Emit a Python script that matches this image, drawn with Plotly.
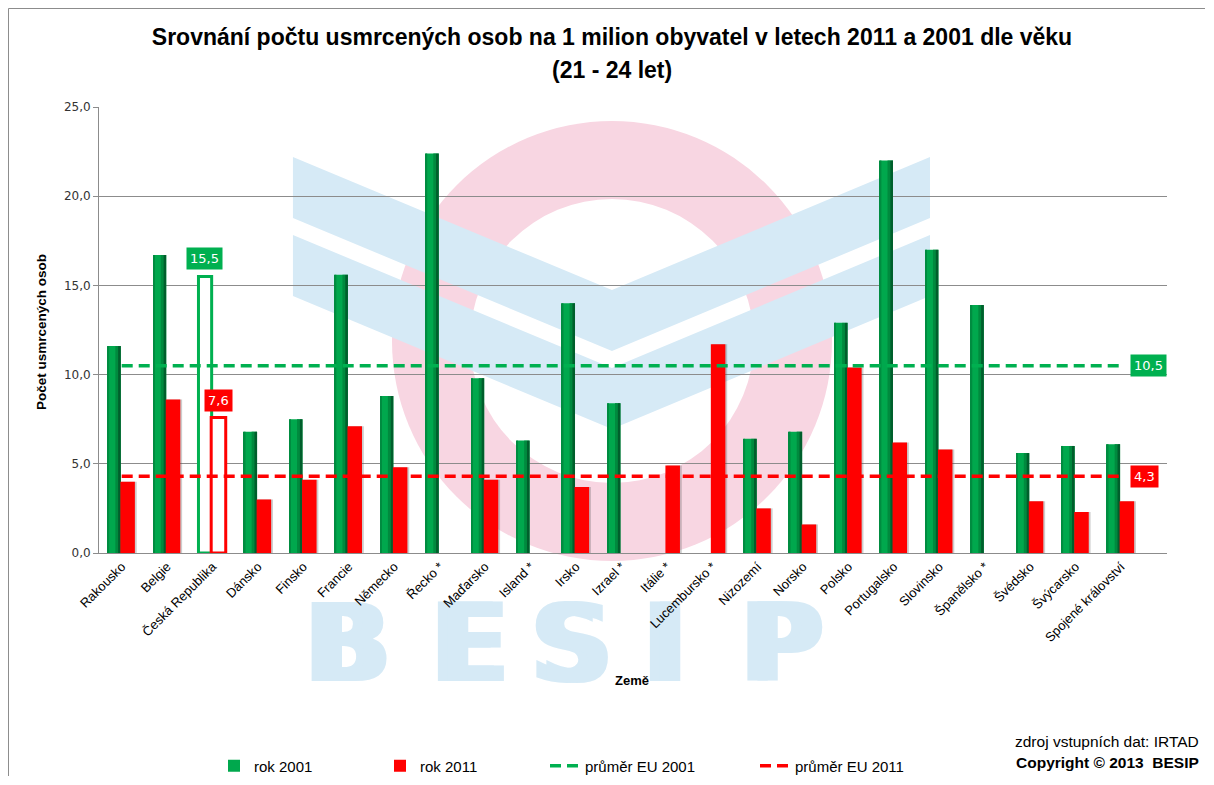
import plotly.graph_objects as go

# data
zeme = ["Rakousko", "Belgie", "Česká Republika", "Dánsko", "Finsko", "Francie",
        "Německo", "Řecko *", "Maďarsko", "Island *", "Irsko", "Izrael *",
        "Itálie *", "Lucembursko *", "Nizozemí", "Norsko", "Polsko",
        "Portugalsko", "Slovinsko", "Španělsko *", "Švédsko", "Švýcarsko",
        "Spojené království"]
rok_2001 = [11.6, 16.7, 15.5, 6.8, 7.5, 15.6, 8.8, 22.4, 9.8, 6.3, 14.0, 8.4,
            None, None, 6.4, 6.8, 12.9, 22.0, 17.0, 13.9, 5.6, 6.0, 6.1]
rok_2011 = [4.0, 8.6, 7.6, 3.0, 4.1, 7.1, 4.8, None, 4.1, None, 3.7, None,
            4.9, 11.7, 2.5, 1.6, 10.4, 6.2, 5.8, None, 2.9, 2.3, 2.9]
prumer_eu_2001 = 10.5
prumer_eu_2011 = 4.3
zvyraznit = "Česká Republika"

GREEN = "#00A84D"
GREEN_LIGHT = "#00B050"
RED = "#FF0000"

# the page body has an 8px margin, so the figure is made 8px smaller on each side
OFF = 8
FIG_W, FIG_H = 1214 - 2 * OFF, 785 - 2 * OFF
# plot area in page pixels (used for decoration placement only)
L, R, T, B = 99, 1167, 107, 553


def px(x):
    return (x - L) / (R - L)


def py(y):
    return (B - y) / (B - T)


def fmt(v):
    return f"{v:.1f}".replace(".", ",")


hl = [z == zvyraznit for z in zeme]
g_fill = [None if h else v for h, v in zip(hl, rok_2001)]
r_fill = [None if h else v for h, v in zip(hl, rok_2011)]

fig = go.Figure()

# green bars: base + darker strips to imitate the gradient of the original
fig.add_trace(go.Bar(
    x=zeme, y=rok_2001, name="rok 2001", offset=-0.31, width=0.29,
    marker=dict(
        color=["white" if h else GREEN for h in hl],
        line=dict(color=GREEN_LIGHT, width=[3 if h else 0 for h in hl]),
    ),
))
for off, w, col in [(-0.31, 0.035, "#008C40"), (-0.14, 0.06, "#008A3E"), (-0.08, 0.06, "#005F2C")]:
    fig.add_trace(go.Bar(x=zeme, y=g_fill, offset=off, width=w, showlegend=False,
                         marker=dict(color=col, line=dict(width=0)), hoverinfo="skip"))

# red bars with a soft grey shadow
fig.add_trace(go.Bar(x=zeme, y=r_fill, offset=0.0, width=0.33, showlegend=False,
                     marker=dict(color="rgba(90,90,90,0.30)", line=dict(width=0)), hoverinfo="skip"))
fig.add_trace(go.Bar(
    x=zeme, y=rok_2011, name="rok 2011", offset=-0.03, width=0.32,
    marker=dict(
        color=["white" if h else RED for h in hl],
        line=dict(color=RED, width=[3 if h else 0 for h in hl]),
    ),
))
fig.add_trace(go.Scatter(
    x=zeme, y=[prumer_eu_2001] * len(zeme), name="průměr EU 2001", legend="legend2",
    mode="lines", line=dict(color=GREEN_LIGHT, width=3.5, dash="11px,6px"),
))
fig.add_trace(go.Scatter(
    x=zeme, y=[prumer_eu_2011] * len(zeme), name="průměr EU 2011", legend="legend2",
    mode="lines", line=dict(color=RED, width=3.5, dash="11px,6px"),
))

# frame (top and left edges only, as one open path) and BESIP watermark, below the grid
frame = f"M {px(8.5):.5f},{py(776):.5f} L {px(8.5):.5f},{py(8.5):.5f} L {px(1205):.5f},{py(8.5):.5f}"
shapes = [
    dict(type="path", xref="paper", yref="paper", path=frame,
         line=dict(color="#8C8C8C", width=1), fillcolor="rgba(0,0,0,0)", layer="below"),
    dict(type="circle", xref="paper", yref="paper", x0=px(392), x1=px(832), y0=py(561), y1=py(121),
         fillcolor="#F8D6E2", line=dict(width=0), layer="below"),
    dict(type="circle", xref="paper", yref="paper", x0=px(470), x1=px(754), y0=py(483), y1=py(199),
         fillcolor="white", line=dict(width=0), layer="below"),
]
for top in (157, 235):
    pts = [(293, top), (612, top + 133), (930, top), (930, top + 61), (612, top + 194), (293, top + 61)]
    path = "M " + " L ".join(f"{px(a):.4f},{py(b):.4f}" for a, b in pts) + " Z"
    shapes.append(dict(type="path", xref="paper", yref="paper", path=path,
                       fillcolor="#D6EAF6", line=dict(width=0), layer="below"))
for ch, cx in zip("BESIP", [348, 470, 572, 665, 782]):
    for dx in (-5, 5):
        shapes.append(dict(type="rect", xref="paper", yref="paper",
                           x0=px(cx + dx - 60), x1=px(cx + dx + 60), y0=py(678), y1=py(592),
                           line=dict(width=0), fillcolor="rgba(0,0,0,0)", layer="below",
                           label=dict(text=ch, font=dict(family="DejaVu Sans", size=108,
                                                         color="#D6EAF6", weight="bold"),
                                      textposition="middle center")))

i_cr = zeme.index(zvyraznit)
box_font = dict(family="DejaVu Sans", color="white", size=13)
annotations = [
    dict(x=zvyraznit, y=rok_2001[i_cr], text=fmt(rok_2001[i_cr]),
         showarrow=False, yanchor="bottom", xshift=-8, yshift=6, bgcolor=GREEN_LIGHT,
         font=box_font, borderpad=3),
    dict(x=zvyraznit, y=rok_2011[i_cr], text=fmt(rok_2011[i_cr]),
         showarrow=False, yanchor="bottom", xshift=6, yshift=5, bgcolor=RED,
         font=box_font, borderpad=3),
    dict(x=zeme[-1], y=prumer_eu_2001, text=fmt(prumer_eu_2001), showarrow=False,
         xanchor="left", yanchor="middle", xshift=9, bgcolor=GREEN_LIGHT,
         font=box_font, borderpad=3),
    dict(x=zeme[-1], y=prumer_eu_2011, text=fmt(prumer_eu_2011), showarrow=False,
         xanchor="left", yanchor="middle", xshift=9, bgcolor=RED,
         font=box_font, borderpad=3),
    dict(xref="paper", yref="paper", x=px(632), y=py(680), text="<b>Země</b>", showarrow=False,
         yanchor="middle", font=dict(size=13, color="black")),
    dict(xref="paper", yref="paper", x=px(41), y=py(332), text="<b>Počet usmrcených osob</b>",
         textangle=-90, showarrow=False, xanchor="center", yanchor="middle",
         font=dict(size=13.5, color="black")),
    dict(xref="paper", yref="paper", x=px(1201), y=py(741), xanchor="right", yanchor="middle",
         text="zdroj vstupních dat: IRTAD", showarrow=False, font=dict(size=15.5, color="black")),
    dict(xref="paper", yref="paper", x=px(1201), y=py(762), xanchor="right", yanchor="middle",
         text="<b>Copyright © 2013  BESIP</b>", showarrow=False, font=dict(size=15.5, color="black")),
    dict(xref="paper", yref="paper", x=px(612), y=py(70), text="<b>(21 - 24 let)</b>",
         showarrow=False, yanchor="middle", font=dict(size=23, color="black")),
]

fig.update_layout(
    width=FIG_W, height=FIG_H,
    margin=dict(l=L - OFF, r=1214 - OFF - R, t=T - OFF, b=785 - OFF - B, autoexpand=False),
    paper_bgcolor="white", plot_bgcolor="white",
    font=dict(family="Liberation Sans", color="black"),
    separators=", ",
    title=dict(text="<b>Srovnání počtu usmrcených osob na 1 milion obyvatel v letech 2011 a 2001 dle věku</b>",
               x=(612 - OFF) / FIG_W, xanchor="center", y=1 - (37 - OFF) / FIG_H, yanchor="middle",
               font=dict(size=23, color="black")),
    barmode="overlay",
    showlegend=True,
    legend=dict(orientation="h", x=px(214), y=py(766), xanchor="left", yanchor="middle",
                entrywidth=121, font=dict(size=15), traceorder="normal"),
    legend2=dict(orientation="h", x=px(545), y=py(766), xanchor="left", yanchor="middle",
                 entrywidth=165, font=dict(size=15), traceorder="normal"),
    shapes=shapes,
    annotations=annotations,
)
fig.update_xaxes(
    tickangle=-45, tickfont=dict(size=13, color="black"),
    showline=True, linecolor="#8C8C8C", showgrid=False, ticks="",
)
fig.update_yaxes(
    range=[0, 25], dtick=5, tickformat=".1f",
    tickfont=dict(family="DejaVu Sans", size=12, color="#333333"),
    showline=True, linecolor="#8C8C8C", gridcolor="#8C8C8C", gridwidth=1,
    ticks="outside", ticklen=5, tickcolor="#8C8C8C", zeroline=False,
)

fig.write_html("out.html")
